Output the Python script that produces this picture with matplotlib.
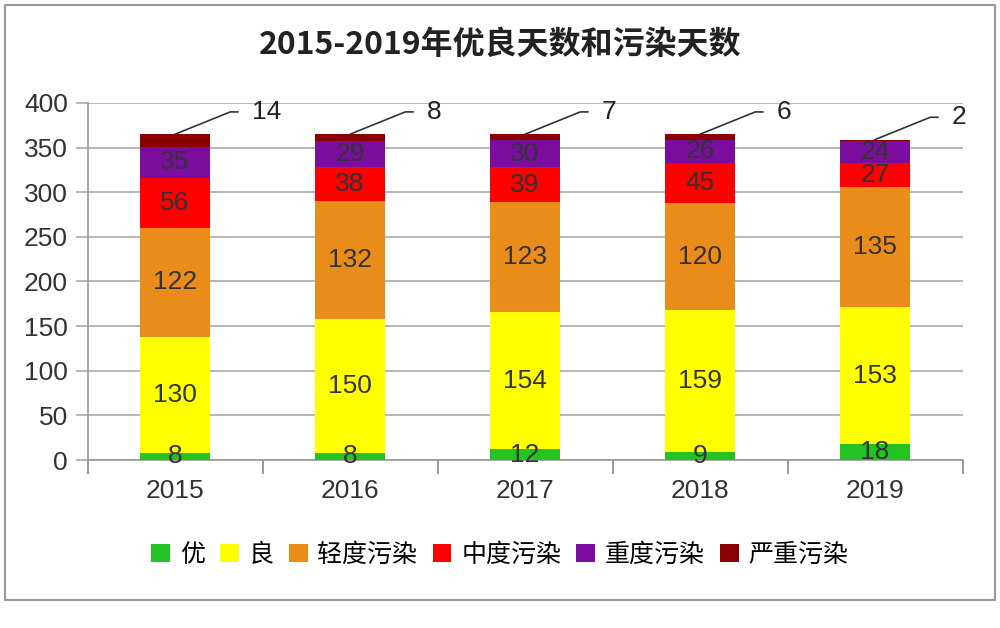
import matplotlib
matplotlib.use("Agg")
import matplotlib.pyplot as plt
from matplotlib.patches import Rectangle
import numpy as np

plt.rcParams['font.family'] = ['Noto Sans CJK SC', 'DejaVu Sans']

years = ['2015', '2016', '2017', '2018', '2019']
series_names = ['优', '良', '轻度污染', '中度污染', '重度污染', '严重污染']
you = [8, 8, 12, 9, 18]
liang = [130, 150, 154, 159, 153]
qingdu = [122, 132, 123, 120, 135]
zhongdu = [56, 38, 39, 45, 27]
zhongdu2 = [35, 29, 30, 26, 24]
yanzhong = [14, 8, 7, 6, 2]
title = '2015-2019年优良天数和污染天数'

colors = ['#22c322', '#ffff00', '#ea8c1a', '#ff0000', '#7a0d9e', '#8b0000']
label_color = '#333333'
num_font = 'Liberation Sans'

fig = plt.figure(figsize=(10, 6.28), dpi=100)
fig.patches.append(Rectangle((0.005, 1 - 600 / 628), 0.99, (600 - 5) / 628,
                             transform=fig.transFigure, fill=False,
                             edgecolor='#999999', linewidth=1.5))

ax = fig.add_axes([0.0875, 1 - 460 / 628, 0.875, (460 - 103) / 628])
x = np.arange(len(years))
data = [you, liang, qingdu, zhongdu, zhongdu2, yanzhong]
bottom = np.zeros(len(years))
for i, (vals, c, name) in enumerate(zip(data, colors, series_names)):
    vals = np.array(vals, dtype=float)
    ax.bar(x, vals, 0.4, bottom=bottom, color=c, label=name, zorder=3)
    if i < 5:
        for xi, b, v in zip(x, bottom, vals):
            ax.text(xi, b + v / 2, f'{int(v)}', ha='center', va='center',
                    fontsize=19, color=label_color, zorder=4,
                    family=num_font)
    else:
        for xi, b, v in zip(x, bottom, vals):
            top = b + v
            ax.annotate(f'{int(v)}', xy=(xi, top), xytext=(xi + 0.44, top + 25),
                        ha='left', va='center', fontsize=19, color='#222222',
                        family=num_font,
                        arrowprops=dict(arrowstyle='-', color='#333333', lw=1.2,
                                        connectionstyle='angle,angleA=0,angleB=22,rad=0',
                                        shrinkA=8, shrinkB=0))
    bottom += vals

ax.set_xlim(-0.5, 4.5)
ax.set_ylim(0, 400)
ax.set_yticks(np.arange(0, 401, 50))
ax.yaxis.grid(True, color='#aaaaaa', linewidth=1.2, zorder=0)
ax.set_axisbelow(True)
ax.set_xticks(x)
ax.set_xticklabels(years)
ax.set_xticks(np.arange(-0.5, 4.6, 1), minor=True)
ax.tick_params(axis='x', which='major', length=0, pad=14, labelsize=19, labelcolor='#333333')
ax.tick_params(axis='x', which='minor', length=10, color='#888888', width=1.2)
ax.tick_params(axis='y', length=9, color='#aaaaaa', width=1.2, labelsize=19,
               labelcolor='#333333', pad=5)
for lbl in ax.get_xticklabels() + ax.get_yticklabels():
    lbl.set_family(num_font)
for s in ['top', 'right']:
    ax.spines[s].set_visible(False)
ax.spines['left'].set_color('#999999')
ax.spines['bottom'].set_color('#999999')
ax.spines['left'].set_linewidth(1.2)
ax.spines['bottom'].set_linewidth(1.2)

fig.text(0.5, 1 - 45 / 628, title, ha='center', va='center', fontsize=23,
         fontweight='bold', color='#222222')

handles, labels = ax.get_legend_handles_labels()
fig.legend(handles, labels, loc='center', bbox_to_anchor=(0.5, 1 - 555 / 628),
           ncol=6, frameon=False, fontsize=18, handlelength=0.75, handleheight=0.75,
           handletextpad=0.4, columnspacing=0.6)

fig.savefig('out.png', dpi=100)
